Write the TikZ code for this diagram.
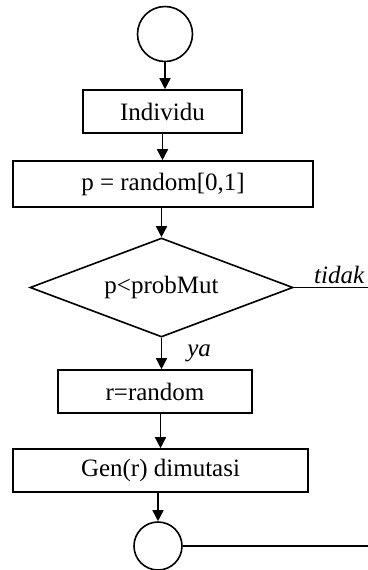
\documentclass[tikz,border=0pt]{standalone}
\usepackage{fontspec}
\setmainfont{Liberation Serif}
\usetikzlibrary{shapes.geometric,arrows.meta}

\tikzset{
  term/.style={draw, circle, line width=0.8pt, inner sep=0pt},
  proc/.style={draw, line width=0.8pt, minimum height=21.5pt, inner sep=0pt},
  decide/.style={draw, diamond, aspect=2.65, line width=0.8pt, inner sep=0pt,
    minimum width=131.5pt, minimum height=49.5pt},
  flow/.style={line width=0.8pt, -{Triangle[width=5.5pt,length=5.5pt]}},
  lbl/.style={font=\fontsize{12.5}{15}\selectfont\itshape, inner sep=1.5pt}
}

\begin{document}
\begin{tikzpicture}[x=0.5pt, y=-0.5pt, font=\fontsize{12.5}{15}\selectfont]
  \useasboundingbox (0,0) rectangle (368,570);

  % start and end points
  \node[term, minimum size=27.5pt] (start) at (165,34) {};
  \node[term, minimum size=24pt] (stop) at (158,546) {};

  % steps of the mutation
  \node[proc, minimum width=79.5pt] (indiv) at (162.5,111.5) {Individu};
  \node[proc, minimum width=150pt, minimum height=23pt] (prand) at (163,184) {p = random[0,1]};
  \node[decide] (check) at (161.5,287.5) {p<probMut};
  \node[proc, minimum width=97pt] (rrand) at (155,391.5) {r=random};
  \node[proc, minimum width=147.5pt] (gen) at (160.5,470.5) {Gen(r) dimutasi};

  % loose ends on the right
  \coordinate (noexit) at (368,287.5);
  \coordinate (outexit) at (368,546);

  % arrows
  \draw[flow] (start) -- (start |- indiv.north);
  \draw[flow] (indiv) -- (indiv |- prand.north);
  \draw[flow] (check.north |- prand.south) -- (check.north);
  \draw[flow] (check.south) -- node[lbl, right=11pt] {ya} (check.south |- rrand.north);
  \draw[flow] (gen.north |- rrand.south) -- (gen.north);
  \draw[flow] (stop |- gen.south) -- (stop.north);

  \draw[line width=0.8pt] (check.east) -- (noexit) node[lbl, above left] {tidak};
  \draw[line width=0.8pt] (stop.east) -- (outexit);
\end{tikzpicture}
\end{document}
